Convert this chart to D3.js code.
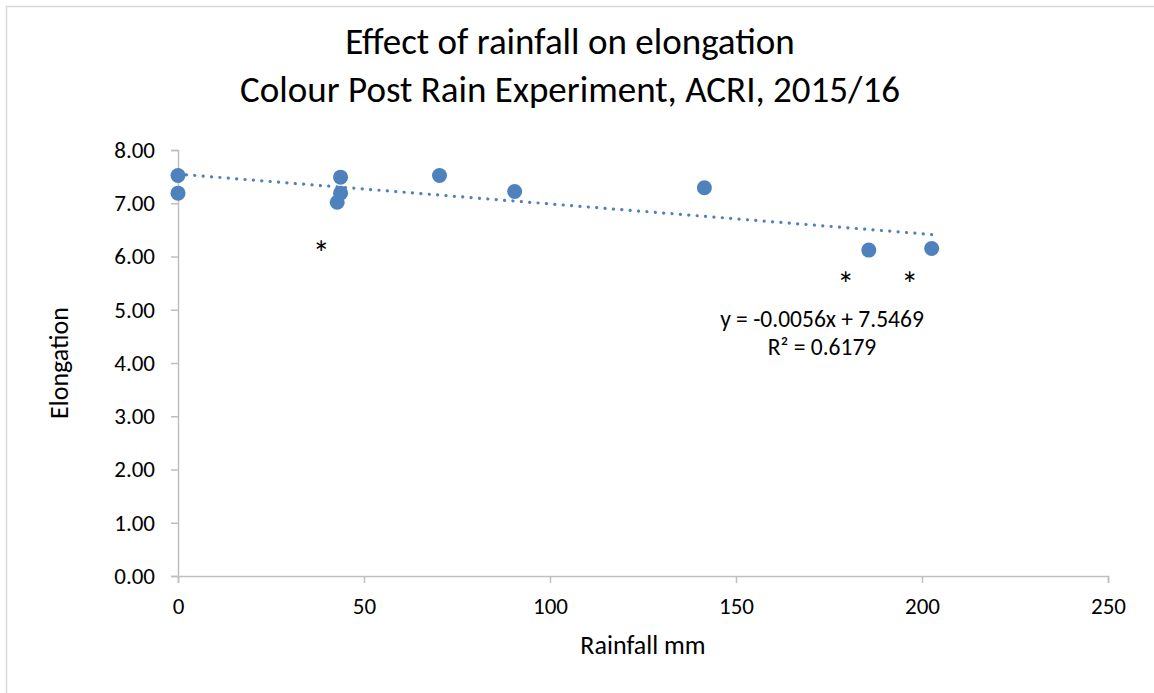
<!DOCTYPE html>
<html><head><meta charset="utf-8">
<script src="https://cdn.jsdelivr.net/npm/d3@7"></script>
<style>body{margin:0;background:#fff;}svg{display:block;font-family:Carlito,Lato,"Open Sans",sans-serif;}</style>
</head><body>
<script>
const rainfall   = [0, 0, 43.7, 43.7, 42.8, 70.3, 90.5, 141.5, 185.7, 202.6];
const elongation = [7.52, 7.19, 7.49, 7.19, 7.02, 7.52, 7.22, 7.29, 6.12, 6.15];
const xTicks = [0, 50, 100, 150, 200, 250];
const yTicks = [0, 1, 2, 3, 4, 5, 6, 7, 8];
const titleLines = ["Effect of rainfall on elongation", "Colour Post Rain Experiment, ACRI, 2015/16"];
const trendSlope = -0.0056, trendIntercept = 7.5469;
const eqLines = ["y = -0.0056x + 7.5469", "R² = 0.6179"];
const starX = [38.5, 179.5, 196.7];
const starY = [6.05, 5.46, 5.46];

const W = 1154, H = 693;
const FF = "Carlito,Lato,'Open Sans',sans-serif";
const svg = d3.select("body").append("svg").attr("width", W).attr("height", H);
svg.append("path").attr("d", `M6.5,${H+5}V6.5H${W+5}`).attr("fill","none").attr("stroke","#d9d9d9").attr("stroke-width",1.5);

const x = d3.scaleLinear().domain([0,250]).range([178,1108]);
const y = d3.scaleLinear().domain([0,8]).range([576,150]);

const xa = svg.append("g").attr("transform","translate(0,576)")
  .call(d3.axisBottom(x).tickValues(xTicks).tickSize(7).tickPadding(15).tickFormat(d3.format("d")));
const ya = svg.append("g").attr("transform","translate(178,0)")
  .call(d3.axisLeft(y).tickValues(yTicks).tickSize(7).tickPadding(16).tickFormat(d3.format(".2f")));
[xa, ya].forEach(a => {
  a.attr("font-size", null).attr("font-family", null);
  a.selectAll("path,line").attr("stroke","#bfbfbf").attr("stroke-width",1.5);
  a.selectAll("text").attr("fill","#000").style("font-size","23px").style("font-family",FF);
});

// trendline
const tx0 = 0, tx1 = d3.max(rainfall);
svg.append("line")
  .attr("x1", x(tx0)).attr("y1", y(trendIntercept + trendSlope*tx0))
  .attr("x2", x(tx1)).attr("y2", y(trendIntercept + trendSlope*tx1))
  .attr("stroke","#4f81bd").attr("stroke-width",3.2).attr("stroke-linecap","round")
  .attr("stroke-dasharray","0.1 8.3");

svg.append("g").selectAll("circle").data(rainfall).join("circle")
  .attr("cx",(d)=>x(d)).attr("cy",(d,i)=>y(elongation[i])).attr("r",7.5)
  .attr("fill","#4f81bd");

svg.append("g").selectAll("text").data(starX).join("text")
  .attr("x",d=>x(d)).attr("y",(d,i)=>y(starY[i]) + 11).attr("text-anchor","middle")
  .style("font-size","34px").text("*");

svg.append("g").selectAll("text").data(eqLines).join("text")
  .attr("x",822).attr("y",(d,i)=>327+i*28).attr("text-anchor","middle")
  .style("font-size","23.5px").attr("fill","#000").text(d=>d);

svg.append("g").selectAll("text").data(titleLines).join("text")
  .attr("x",570).attr("y",(d,i)=>54+i*48).attr("text-anchor","middle")
  .style("font-size","37px").attr("fill","#000").text(d=>d);

svg.append("text").attr("x",643).attr("y",654).attr("text-anchor","middle")
  .style("font-size","26px").text("Rainfall mm");
svg.append("text").attr("transform","translate(68,363) rotate(-90)").attr("text-anchor","middle")
  .style("font-size","26px").text("Elongation");
</script>
</body></html>
